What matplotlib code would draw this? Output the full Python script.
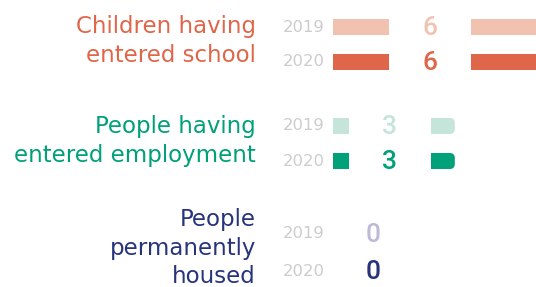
import matplotlib.pyplot as plt
from matplotlib.patches import Rectangle, FancyBboxPatch

# data
categories = ['Children having\nentered school',
              'People having\nentered employment',
              'People\npermanently\nhoused']
years = ['2019', '2020']
values_2019 = [6, 3, 0]
values_2020 = [6, 3, 0]

# colours (light = 2019, dark = 2020)
dark = ['#e0664a', '#00a079', '#27347c']
light = ['#f2c2b0', '#c6e5da', '#bdbad9']

# layout, in pixels from the top of the figure
row_y = [(27, 62), (126, 161), (234, 271)]
label_y = [41, 141, 248]
bar_h = 16
xmax = 5.0
px_per_unit = 203 / xmax
gap_w = 82 / px_per_unit

fig = plt.figure(figsize=(5.36, 2.87), dpi=100)

# text axes over the whole figure
tx = fig.add_axes([0, 0, 1, 1])
tx.set_xlim(0, 536)
tx.set_ylim(287, 0)
tx.axis('off')

# bar axes
ax = fig.add_axes([333 / 536, 0, 203 / 536, 1])
ax.set_xlim(0, xmax)
ax.set_ylim(287, 0)
ax.axis('off')

for i, cat in enumerate(categories):
    tx.text(256, label_y[i], cat, ha='right', va='center', color=dark[i],
            fontsize=16.5, family='DejaVu Sans', linespacing=1.3)
    for j, (vals, cols) in enumerate(((values_2019, light), (values_2020, dark))):
        y = row_y[i][j]
        v = vals[i]
        tx.text(325, y, years[j], ha='right', va='center', color='#cccccc',
                fontsize=11.8, family='DejaVu Sans')
        if v > 0:
            r = 5 / px_per_unit
            ax.barh(y, v - r, height=bar_h, left=0, color=cols[i], zorder=1)
            cap = FancyBboxPatch((v - 2 * r, y - bar_h / 2), 2 * r, bar_h,
                                 boxstyle='round,pad=0,rounding_size=%f' % r,
                                 mutation_aspect=px_per_unit,
                                 facecolor=cols[i], edgecolor='none', zorder=1)
            ax.add_patch(cap)
        lx = max(min(v, xmax) / 2 - 0.1, 1.0)
        ax.add_patch(Rectangle((lx - gap_w / 2, y - 12), gap_w, 24,
                               facecolor='white', edgecolor='none', zorder=2))
        ax.text(lx, y + 1, str(v), ha='center', va='center', color=cols[i],
                fontsize=19, family='Roboto', fontweight='medium', zorder=3)

fig.savefig('out.png', dpi=100)
